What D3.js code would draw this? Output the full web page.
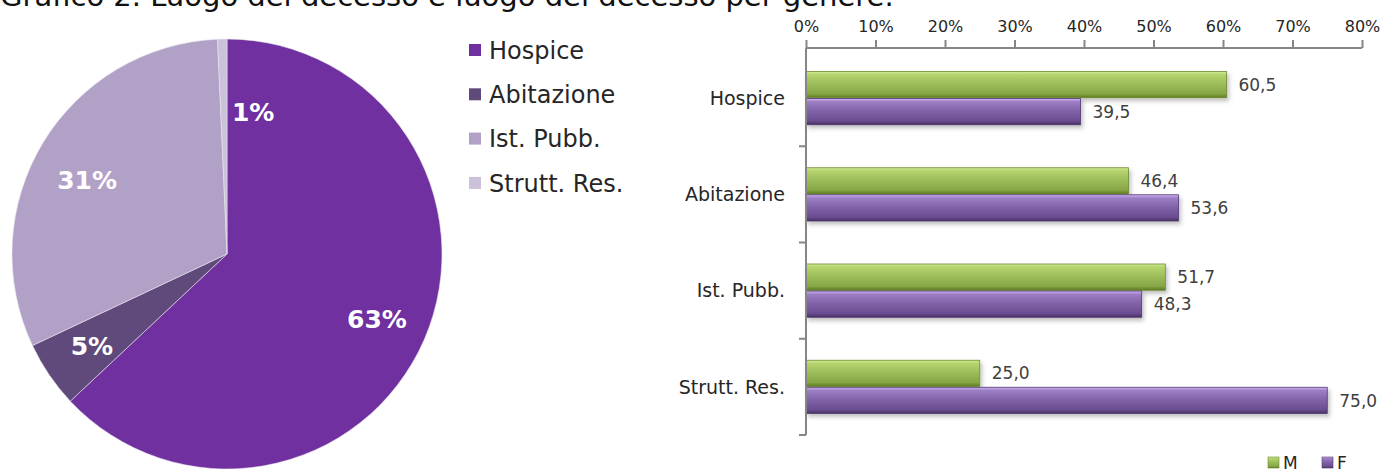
<!DOCTYPE html>
<html>
<head>
<meta charset="utf-8">
<script src="https://cdn.jsdelivr.net/npm/d3@7"></script>
<style>
  body { margin: 0; background: #fff; }
  svg { display: block; font-family: "DejaVu Sans", sans-serif; }
</style>
</head>
<body>
<svg id="chart" width="1387" height="475"></svg>
<script>
// pie: luogo del decesso
var places = ["Hospice", "Abitazione", "Ist. Pubb.", "Strutt. Res."];
var placeShare = [63.0, 5.0, 31.3, 0.7];
var placeLabels = ["63%", "5%", "31%", "1%"];
var placeColors = ["#7030a0", "#604a7b", "#b2a1c7", "#ccc1da"];

// bars: luogo del decesso per genere
var genders = ["M", "F"];
var maleValues = [60.5, 46.4, 51.7, 25.0];
var femaleValues = [39.5, 53.6, 48.3, 75.0];
var xTicks = [0, 10, 20, 30, 40, 50, 60, 70, 80];

var svg = d3.select("#chart");
var defs = svg.append("defs");

// title (cut off at the top in the original)
svg.append("text")
    .attr("x", 0)
    .attr("y", 6)
    .style("font-size", "29px")
    .style("fill", "#111")
    .text("Grafico 2.  Luogo del decesso e luogo del decesso per genere.");

// ---------- pie ----------
var cx = 227, cy = 254, radius = 215;
var pieG = svg.append("g").attr("transform", "translate(" + cx + "," + cy + ")");

var pie = d3.pie().sort(null).value(d => d.value);
var arcs = pie(places.map((p, i) => ({ name: p, value: placeShare[i], label: placeLabels[i], color: placeColors[i] })));
var arc = d3.arc().innerRadius(0).outerRadius(radius);
var labelArc = d3.arc().innerRadius(radius * 0.76).outerRadius(radius * 0.76);
var smallArc = d3.arc().innerRadius(radius * 0.66).outerRadius(radius * 0.66);
var isSmall = d => (d.endAngle - d.startAngle) < 0.1;

pieG.selectAll(".slice")
    .data(arcs)
    .enter()
    .append("path")
    .attr("class", "slice")
    .attr("d", arc)
    .style("fill", d => d.data.color)
    .style("stroke", "#e8e2ee")
    .style("stroke-width", 0.6);

pieG.selectAll(".plabel")
    .data(arcs)
    .enter()
    .append("text")
    .attr("class", "plabel")
    .attr("transform", function(d) {
        var c = isSmall(d) ? smallArc.centroid(d) : labelArc.centroid(d);
        if (d.data.name === "Ist. Pubb.") c[1] += 10;
        return "translate(" + c[0] + "," + c[1] + ")";
    })
    .attr("text-anchor", d => isSmall(d) ? "start" : "middle")
    .attr("dx", d => isSmall(d) ? 8 : 0)
    .attr("dy", "0.36em")
    .style("font-size", "25px")
    .style("font-weight", "bold")
    .style("fill", "#fff")
    .text(d => d.data.label);

// pie legend
var pl = svg.append("g").attr("transform", "translate(469,50)");
var plItem = pl.selectAll(".pl")
    .data(places)
    .enter()
    .append("g")
    .attr("transform", (d, i) => "translate(0," + i * 44.3 + ")");
plItem.append("rect")
    .attr("x", 0).attr("y", -6)
    .attr("width", 12).attr("height", 12)
    .style("fill", (d, i) => placeColors[i]);
plItem.append("text")
    .attr("x", 20)
    .attr("dy", "0.36em")
    .style("font-size", "24px")
    .style("fill", "#262626")
    .text(d => d);

// ---------- bars ----------
var x = d3.scaleLinear().domain([0, 80]).range([806, 1362]);
var y = d3.scaleBand().domain(places).range([50, 435]).paddingInner(0.43).paddingOuter(0.215);
var yInner = d3.scaleBand().domain(genders).range([0, y.bandwidth()]).padding(0.03);

function gradient(id, stops) {
    var g = defs.append("linearGradient").attr("id", id)
        .attr("x1", 0).attr("y1", 0).attr("x2", 0).attr("y2", 1);
    stops.forEach(s => g.append("stop").attr("offset", s[0]).attr("stop-color", s[1]));
}
gradient("gM", [[0, "#d3ec98"], [0.12, "#b5d46e"], [0.5, "#9bbb59"], [0.85, "#86a544"], [1, "#5d7a22"]]);
gradient("gF", [[0, "#d2b6f5"], [0.12, "#9d7fc6"], [0.5, "#7f60a6"], [0.85, "#6b4d92"], [1, "#47305f"]]);

var shadow = defs.append("filter").attr("id", "shadow")
    .attr("x", "-5%").attr("y", "-30%").attr("width", "110%").attr("height", "180%");
shadow.append("feDropShadow")
    .attr("dx", 2).attr("dy", 3).attr("stdDeviation", 2)
    .attr("flood-color", "#000").attr("flood-opacity", 0.25);

var barData = [];
places.forEach(function(p, i) {
    barData.push({ cat: p, g: "M", value: maleValues[i] });
    barData.push({ cat: p, g: "F", value: femaleValues[i] });
});

var barsG = svg.append("g");
barsG.selectAll(".bar")
    .data(barData)
    .enter()
    .append("rect")
    .attr("class", "bar")
    .attr("x", x(0))
    .attr("y", d => y(d.cat) + yInner(d.g))
    .attr("width", d => x(d.value) - x(0))
    .attr("height", yInner.bandwidth())
    .style("fill", d => d.g === "M" ? "url(#gM)" : "url(#gF)")
    .style("stroke", d => d.g === "M" ? "#6d8a2e" : "#4f3870")
    .style("stroke-width", 0.8)
    .attr("filter", "url(#shadow)");

barsG.selectAll(".val")
    .data(barData)
    .enter()
    .append("text")
    .attr("class", "val")
    .attr("x", d => x(d.value) + 12)
    .attr("y", d => y(d.cat) + yInner(d.g) + yInner.bandwidth() / 2)
    .attr("dy", "0.36em")
    .style("font-size", "17px")
    .style("fill", "#404040")
    .text(d => d.value.toFixed(1).replace(".", ","));

// top axis
var xAxis = svg.append("g")
    .attr("transform", "translate(0,48)")
    .call(d3.axisTop(x).tickValues(xTicks).tickFormat(d => d + "%").tickSize(8).tickPadding(8));
xAxis.select(".domain").attr("d", "M" + x(0) + ",0H" + x(80)).style("stroke", "#868686").style("stroke-width", 2);
xAxis.selectAll(".tick line").style("stroke", "#868686").style("stroke-width", 2);
xAxis.selectAll(".tick text")
    .style("font-family", "DejaVu Sans, sans-serif")
    .style("font-size", "16px")
    .style("fill", "#262626");

// left axis with ticks between categories
var yAxis = svg.append("g");
yAxis.append("line")
    .attr("x1", x(0)).attr("x2", x(0))
    .attr("y1", y.range()[0] - 2).attr("y2", y.range()[1])
    .style("stroke", "#868686").style("stroke-width", 2);
yAxis.selectAll(".sep")
    .data(places)
    .enter()
    .append("line")
    .attr("x1", x(0) - 7).attr("x2", x(0))
    .attr("y1", (d, i) => y.range()[0] + (i + 1) * y.step())
    .attr("y2", (d, i) => y.range()[0] + (i + 1) * y.step())
    .style("stroke", "#868686").style("stroke-width", 2);
yAxis.selectAll(".cat")
    .data(places)
    .enter()
    .append("text")
    .attr("x", x(0) - 21)
    .attr("y", d => y(d) + y.bandwidth() / 2)
    .attr("dy", "0.36em")
    .attr("text-anchor", "end")
    .style("font-size", "19px")
    .style("fill", "#262626")
    .text(d => d);

// bar legend
var bl = svg.append("g").attr("transform", "translate(1268,462)");
var blItem = bl.selectAll(".bl")
    .data(genders)
    .enter()
    .append("g")
    .attr("transform", (d, i) => "translate(" + i * 54 + ",0)");
blItem.append("rect")
    .attr("x", 0).attr("y", -5)
    .attr("width", 11).attr("height", 11)
    .style("fill", d => d === "M" ? "url(#gM)" : "url(#gF)")
    .style("stroke", d => d === "M" ? "#6d8a2e" : "#4f3870")
    .style("stroke-width", 0.6);
blItem.append("text")
    .attr("x", 15)
    .attr("dy", "0.4em")
    .style("font-size", "17px")
    .style("fill", "#262626")
    .text(d => d);
</script>
</body>
</html>
